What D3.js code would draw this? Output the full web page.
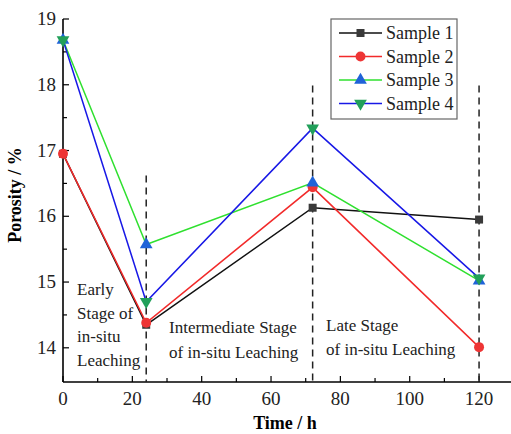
<!DOCTYPE html>
<html lang="en">
<head>
<meta charset="UTF-8">
<title>Porosity over time</title>
<script src="https://d3js.org/d3.v7.min.js"></script>
<style>
    body { margin: 0; background: #fff; }
    svg text { font-family: 'Liberation Serif', 'DejaVu Serif', 'Times New Roman', Times, serif; }
</style>
</head>
<body>
<svg id="chart"></svg>
<script>
    // data
    const times = [0, 24, 72, 120];
    const sample1 = [16.95, 14.35, 16.13, 15.95];
    const sample2 = [16.95, 14.38, 16.44, 14.01];
    const sample3 = [18.68, 15.57, 16.51, 15.02];
    const sample4 = [18.68, 14.70, 17.34, 15.06];
    const seriesNames = ["Sample 1", "Sample 2", "Sample 3", "Sample 4"];
    const xTicks = [0, 20, 40, 60, 80, 100, 120];
    const yTicks = [14, 15, 16, 17, 18, 19];
    const stageLines = [24, 72, 120];

    const width = 511, height = 434;
    const svg = d3.select("#chart").attr("width", width).attr("height", height);

    const x = d3.scaleLinear().domain([0, 129.5]).range([63, 512]);
    const y = d3.scaleLinear().domain([13.48, 19]).range([382, 19]);

    const series = [
        { name: seriesNames[0], values: sample1, line: "#111111", fill: "#3a3a3a", shape: "square" },
        { name: seriesNames[1], values: sample2, line: "#f22a2a", fill: "#ee3535", shape: "circle" },
        { name: seriesNames[2], values: sample3, line: "#2fe02f", fill: "#1f63d8", shape: "up" },
        { name: seriesNames[3], values: sample4, line: "#1818e6", fill: "#22a05a", shape: "down" }
    ];

    function markerPath(shape) {
        if (shape === "square") return d3.symbol(d3.symbolSquare, 64)();
        if (shape === "circle") return d3.symbol(d3.symbolCircle, 78)();
        return d3.symbol(d3.symbolTriangle, 70)();
    }

    // axes (ticks point inward)
    const gx = svg.append("g").attr("transform", `translate(0,${y.range()[0]})`);
    gx.append("line").attr("x1", x(0)).attr("x2", 512).attr("y1", 0).attr("y2", 0)
        .attr("stroke", "#000").attr("stroke-width", 1.6);
    gx.selectAll(".xt").data(d3.range(0, 130, 10)).enter().append("line")
        .attr("x1", d => x(d)).attr("x2", d => x(d))
        .attr("y1", 0).attr("y2", d => d % 20 === 0 ? -6 : -4)
        .attr("stroke", "#000").attr("stroke-width", 1.2);
    gx.selectAll(".xl").data(xTicks).enter().append("text")
        .attr("x", d => x(d)).attr("y", 23)
        .attr("text-anchor", "middle").attr("font-size", 19).attr("fill", "#222")
        .text(d => d);

    const gy = svg.append("g").attr("transform", `translate(${x(0)},0)`);
    gy.append("line").attr("x1", 0).attr("x2", 0).attr("y1", y(13.48)).attr("y2", y(19))
        .attr("stroke", "#000").attr("stroke-width", 1.6);
    gy.selectAll(".yt").data(d3.range(14, 19.01, 0.5)).enter().append("line")
        .attr("x1", 0).attr("x2", d => Number.isInteger(d) ? 6 : 4)
        .attr("y1", d => y(d)).attr("y2", d => y(d))
        .attr("stroke", "#000").attr("stroke-width", 1.2);
    gy.selectAll(".yl").data(yTicks).enter().append("text")
        .attr("x", -7).attr("y", d => y(d) + 6)
        .attr("text-anchor", "end").attr("font-size", 19).attr("fill", "#222")
        .text(d => d);

    // axis titles
    svg.append("text").attr("x", 285).attr("y", 429).attr("text-anchor", "middle")
        .attr("font-size", 18).attr("font-weight", "bold").text("Time / h");
    svg.append("text").attr("transform", "translate(21,195) rotate(-90)")
        .attr("text-anchor", "middle").attr("font-size", 18).attr("font-weight", "bold")
        .text("Porosity / %");

    // dashed stage separators
    const dashTop = { 24: 16.62, 72: 17.99, 120: 17.99 };
    svg.selectAll(".stage").data(stageLines).enter().append("line")
        .attr("x1", d => x(d)).attr("x2", d => x(d))
        .attr("y1", d => y(dashTop[d])).attr("y2", y(13.48))
        .attr("stroke", "#222").attr("stroke-width", 1.5).attr("stroke-dasharray", "7,5");

    // lines and markers
    const line = d3.line().x((d, i) => x(times[i])).y(d => y(d));
    series.forEach(s => {
        svg.append("path").attr("d", line(s.values)).attr("fill", "none")
            .attr("stroke", s.line).attr("stroke-width", 1.5);
    });
    series.forEach(s => {
        svg.selectAll(null).data(s.values).enter().append("path")
            .attr("d", markerPath(s.shape))
            .attr("transform", (d, i) => `translate(${x(times[i])},${y(d)})` + (s.shape === "down" ? " rotate(180)" : ""))
            .attr("fill", s.fill);
    });

    // stage annotations
    const ann = svg.append("g").attr("font-size", 17).attr("fill", "#222");
    const early = ["Early", "Stage of", "in-situ", "Leaching"];
    ann.selectAll(".e").data(early).enter().append("text")
        .attr("x", 77).attr("y", (d, i) => 295 + i * 23.7).text(d => d);
    ann.append("text").attr("x", 169).attr("y", 333).text("Intermediate Stage");
    ann.append("text").attr("x", 169).attr("y", 358).text("of in-situ Leaching");
    ann.append("text").attr("x", 326).attr("y", 331).text("Late Stage");
    ann.append("text").attr("x", 326).attr("y", 355).text("of in-situ Leaching");

    // legend
    const lg = svg.append("g").attr("transform", "translate(331,19)");
    lg.append("rect").attr("width", 126).attr("height", 100)
        .attr("fill", "#fff").attr("stroke", "#666").attr("stroke-width", 1.2);
    series.forEach((s, i) => {
        const row = lg.append("g").attr("transform", `translate(0,${14 + i * 23.5})`);
        row.append("line").attr("x1", 8).attr("x2", 51).attr("stroke", s.line).attr("stroke-width", 1.5);
        row.append("path").attr("d", markerPath(s.shape))
            .attr("transform", "translate(29.5,0)" + (s.shape === "down" ? " rotate(180)" : ""))
            .attr("fill", s.fill);
        row.append("text").attr("x", 55).attr("y", 6).attr("font-size", 18).attr("fill", "#222").text(s.name);
    });
</script>
</body>
</html>
